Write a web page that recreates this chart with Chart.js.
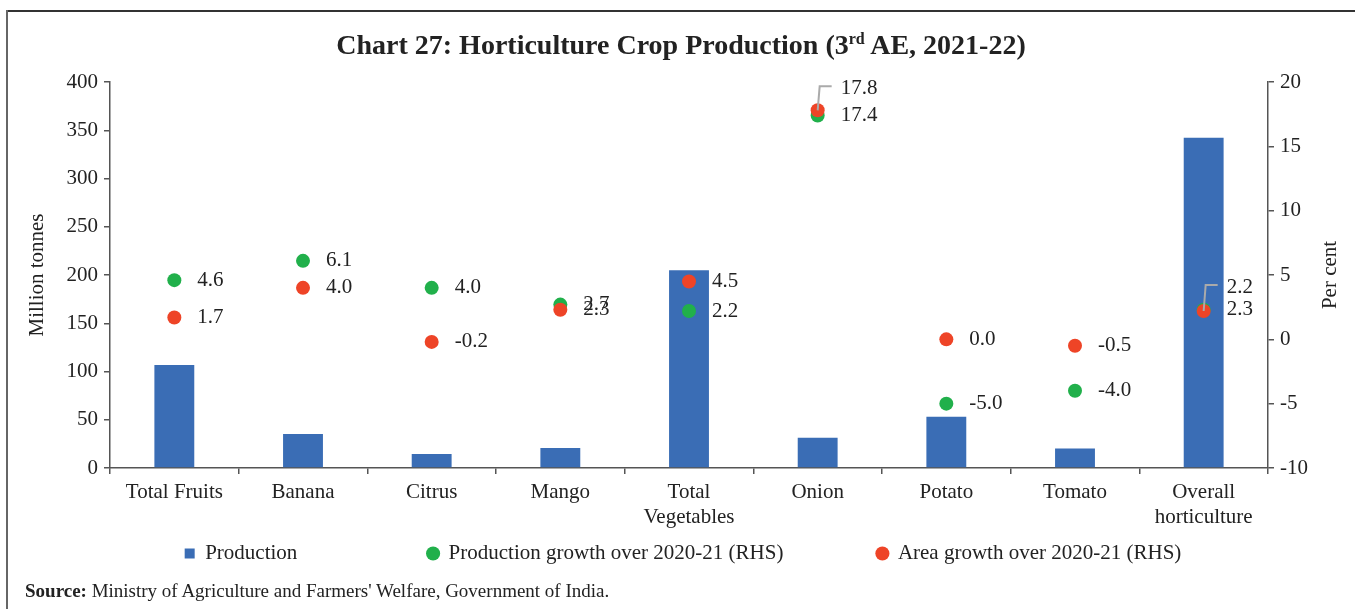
<!DOCTYPE html>
<html>
<head>
<meta charset="utf-8">
<title>Chart 27: Horticulture Crop Production</title>
<script src="https://cdn.jsdelivr.net/npm/chart.js@4.4.1/dist/chart.umd.min.js"></script>
<style>
    body { margin: 0; background: #fff; font-family: "Liberation Serif", serif; color: #222; }
    #wrap { position: relative; width: 1355px; height: 609px; overflow: hidden; }
    #chart { position: absolute; left: 0; top: 0; }
    .frame-top { position: absolute; left: 6px; top: 10px; width: 1349px; height: 2px; background: #333; }
    .frame-left { position: absolute; left: 6px; top: 10px; width: 2px; height: 599px; background: #666; }
    #title { position: absolute; left: 0; width: 1362px; top: 29px; text-align: center; font-weight: bold; font-size: 28px; line-height: 32px; color: #222; }
    #title sup { font-size: 16px; vertical-align: 10px; line-height: 0; }
    #source { position: absolute; left: 25px; top: 580px; font-size: 19px; color: #222; }
</style>
</head>
<body>
<div id="wrap">
    <canvas id="chart" width="1355" height="609"></canvas>
    <div class="frame-top"></div>
    <div class="frame-left"></div>
    <div id="title">Chart 27: Horticulture Crop Production (3<sup>rd</sup> AE, 2021-22)</div>
    <div id="source"><b>Source:</b> Ministry of Agriculture and Farmers' Welfare, Government of India.</div>
</div>
<script>
// Data
const categories = ['Total Fruits', 'Banana', 'Citrus', 'Mango', ['Total', 'Vegetables'], 'Onion', 'Potato', 'Tomato', ['Overall', 'horticulture']];
const production = [106.8, 35.2, 14.5, 20.7, 204.8, 31.3, 53.2, 20.2, 342.3];   // million tonnes
const prodGrowth = [4.6, 6.1, 4.0, 2.7, 2.2, 17.4, -5.0, -4.0, 2.3];           // per cent
const areaGrowth = [1.7, 4.0, -0.2, 2.3, 4.5, 17.8, 0.0, -0.5, 2.2];           // per cent
const leftTicks = [0, 400, 50];
const rightTicks = [-10, 20, 5];

// Labels moved off their point (dataset index -> point index -> pixel shift), drawn with a leader line
const labelShift = { 2: { 5: -22, 8: -24 } };

const FONT = '"Liberation Serif", serif';
const SIZE = 21;
const TEXT = '#222';
const AXIS = '#555';

// Value labels next to the growth markers
const pointLabels = {
    id: 'pointLabels',
    afterDatasetsDraw(chart) {
        const ctx = chart.ctx;
        ctx.save();
        ctx.font = SIZE + 'px ' + FONT;
        ctx.fillStyle = TEXT;
        ctx.textBaseline = 'middle';
        ctx.textAlign = 'left';
        [1, 2].forEach(di => {
            const vals = chart.data.datasets[di].data;
            chart.getDatasetMeta(di).data.forEach((pt, i) => {
                const shift = (labelShift[di] && labelShift[di][i]) || 0;
                const y = pt.y + shift;
                if (shift) {
                    ctx.strokeStyle = '#aaa';
                    ctx.lineWidth = 2;
                    ctx.beginPath();
                    ctx.moveTo(pt.x, pt.y);
                    ctx.lineTo(pt.x + 2, y - 2);
                    ctx.lineTo(pt.x + 14, y - 2);
                    ctx.stroke();
                }
                ctx.fillText(vals[i].toFixed(1), pt.x + 23, y);
            });
        });
        ctx.restore();
    }
};

// Right-hand axis title, reading bottom to top like the left one
const rightTitle = {
    id: 'rightTitle',
    afterDraw(chart) {
        const ctx = chart.ctx;
        const a = chart.chartArea;
        ctx.save();
        ctx.translate(1330, (a.top + a.bottom) / 2);
        ctx.rotate(-Math.PI / 2);
        ctx.font = SIZE + 'px ' + FONT;
        ctx.fillStyle = TEXT;
        ctx.textAlign = 'center';
        ctx.textBaseline = 'middle';
        ctx.fillText('Per cent', 0, 0);
        ctx.restore();
    }
};

const legendGap = [' '.repeat(23), ' '.repeat(16), ''];

const tickGrid = { display: true, drawOnChartArea: false, drawTicks: true, tickLength: 6, color: AXIS, lineWidth: 1.5 };
const axisBorder = { display: true, color: AXIS, width: 1.5 };

new Chart(document.getElementById('chart').getContext('2d'), {
    data: {
        labels: categories,
        datasets: [
            {
                type: 'bar',
                label: 'Production',
                data: production,
                backgroundColor: '#3a6db5',
                yAxisID: 'y',
                barPercentage: 0.31,
                categoryPercentage: 1,
                pointStyle: 'rect',
                order: 3
            },
            {
                type: 'line',
                label: 'Production growth over 2020-21 (RHS)',
                data: prodGrowth,
                yAxisID: 'y1',
                showLine: false,
                pointRadius: 7,
                pointHoverRadius: 7,
                pointBackgroundColor: '#21b04b',
                pointBorderWidth: 0,
                backgroundColor: '#21b04b',
                borderColor: '#21b04b',
                pointStyle: 'circle',
                order: 2
            },
            {
                type: 'line',
                label: 'Area growth over 2020-21 (RHS)',
                data: areaGrowth,
                yAxisID: 'y1',
                showLine: false,
                pointRadius: 7,
                pointHoverRadius: 7,
                pointBackgroundColor: '#ee4427',
                pointBorderWidth: 0,
                backgroundColor: '#ee4427',
                borderColor: '#ee4427',
                pointStyle: 'circle',
                order: 1
            }
        ]
    },
    options: {
        responsive: false,
        animation: false,
        layout: { padding: { left: 25, right: 14, top: 82, bottom: 35 } },
        plugins: {
            title: { display: false },
            tooltip: { enabled: false },
            legend: {
                position: 'bottom',
                labels: {
                    usePointStyle: true,
                    boxWidth: 10,
                    boxHeight: 10,
                    padding: 10,
                    color: TEXT,
                    font: { family: FONT, size: SIZE },
                    sort: (a, b) => a.datasetIndex - b.datasetIndex,
                    generateLabels: chart => Chart.defaults.plugins.legend.labels.generateLabels(chart)
                        .map(item => Object.assign(item, { text: item.text + legendGap[item.datasetIndex], lineWidth: 0 }))
                }
            }
        },
        scales: {
            x: {
                grid: tickGrid,
                border: axisBorder,
                ticks: { color: TEXT, font: { family: FONT, size: SIZE }, padding: 6, maxRotation: 0, autoSkip: false },
                afterFit: scale => { scale.height = 65; }
            },
            y: {
                position: 'left',
                min: leftTicks[0],
                max: leftTicks[1],
                grid: tickGrid,
                border: axisBorder,
                ticks: { stepSize: leftTicks[2], color: TEXT, font: { family: FONT, size: SIZE }, padding: 6 },
                title: { display: true, text: 'Million tonnes', color: TEXT, font: { family: FONT, size: SIZE }, padding: 0 },
                afterFit: scale => { scale.width = 85; }
            },
            y1: {
                position: 'right',
                min: rightTicks[0],
                max: rightTicks[1],
                grid: tickGrid,
                border: axisBorder,
                ticks: { stepSize: rightTicks[2], color: TEXT, font: { family: FONT, size: SIZE }, padding: 6 },
                afterFit: scale => { scale.width = 73; }
            }
        }
    },
    plugins: [pointLabels, rightTitle]
});
</script>
</body>
</html>
